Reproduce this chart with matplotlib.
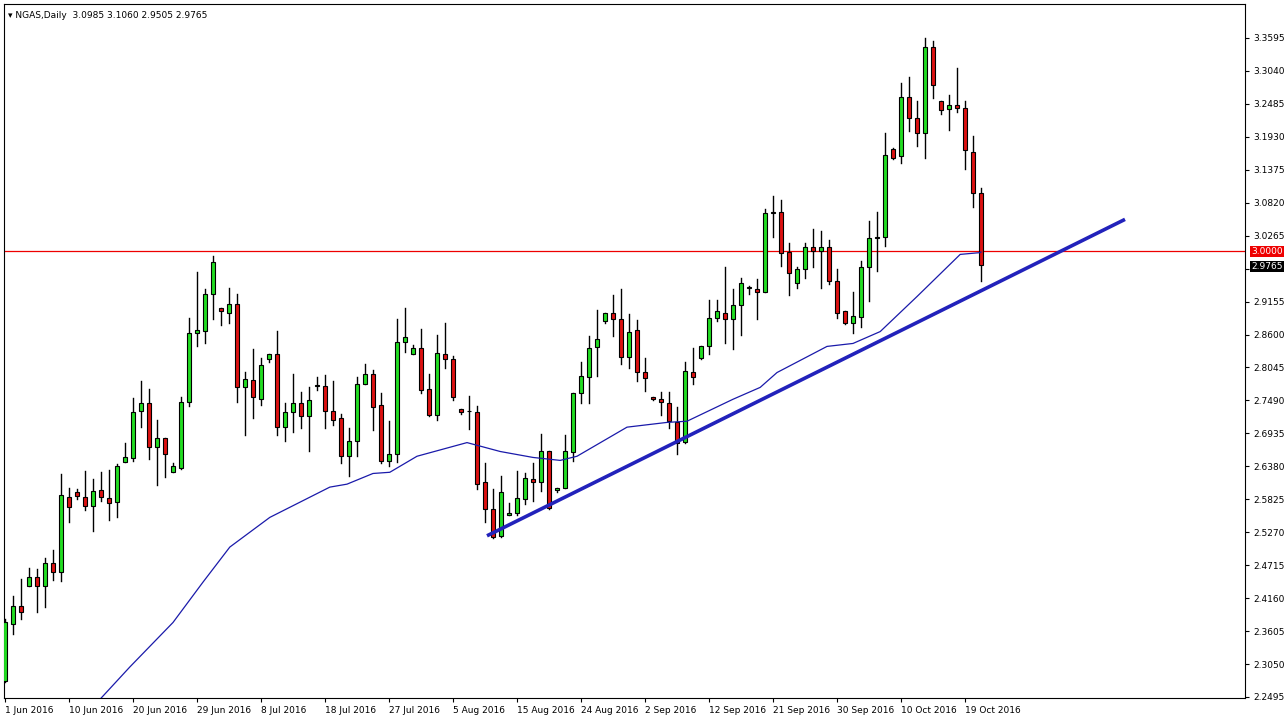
import matplotlib
matplotlib.use("Agg")
import matplotlib.pyplot as plt
from matplotlib.patches import Rectangle
import pandas as pd

opens = [2.277,2.372,2.402,2.436,2.452,2.436,2.476,2.460,2.587,2.595,2.587,2.571,2.598,2.585,2.578,2.646,2.652,2.731,2.745,2.671,
 2.685,2.629,2.636,2.747,2.863,2.866,2.929,2.904,2.897,2.911,2.772,2.784,2.752,2.818,2.827,2.705,2.730,2.744,2.723,2.774,
 2.774,2.732,2.719,2.655,2.680,2.777,2.793,2.741,2.647,2.658,2.848,2.828,2.838,2.768,2.724,2.828,2.818,2.734,2.731,2.730,
 2.611,2.566,2.520,2.556,2.560,2.583,2.617,2.612,2.663,2.598,2.602,2.662,2.762,2.789,2.839,2.882,2.896,2.887,2.823,2.867,
 2.797,2.754,2.752,2.745,2.713,2.679,2.797,2.821,2.840,2.888,2.897,2.887,2.909,2.939,2.936,2.932,3.065,3.067,2.999,2.947,
 2.970,3.008,3.001,3.008,2.950,2.899,2.879,2.890,2.973,3.023,3.025,3.173,3.160,3.260,3.225,3.200,3.345,3.254,3.240,3.246,
 3.241,3.168,3.0985]
highs = [2.381,2.420,2.448,2.466,2.465,2.484,2.497,2.625,2.602,2.599,2.630,2.616,2.629,2.632,2.642,2.677,2.753,2.781,2.769,2.716,
 2.685,2.644,2.754,2.888,2.965,2.937,2.992,2.904,2.939,2.929,2.797,2.835,2.820,2.828,2.866,2.745,2.793,2.764,2.772,2.789,
 2.792,2.781,2.726,2.702,2.789,2.811,2.801,2.761,2.715,2.887,2.905,2.843,2.870,2.793,2.860,2.879,2.824,2.735,2.756,2.740,
 2.644,2.599,2.621,2.577,2.630,2.627,2.643,2.692,2.663,2.602,2.690,2.762,2.813,2.857,2.901,2.897,2.926,2.936,2.894,2.884,
 2.820,2.754,2.763,2.763,2.738,2.814,2.838,2.841,2.919,2.919,2.973,2.937,2.956,2.942,2.953,3.071,3.093,3.086,3.015,2.974,
 3.015,3.037,3.034,3.019,2.971,2.899,2.932,2.984,3.052,3.066,3.200,3.175,3.283,3.294,3.254,3.360,3.354,3.254,3.264,3.309,
 3.253,3.195,3.106]
lows = [2.274,2.355,2.381,2.436,2.393,2.401,2.447,2.445,2.544,2.583,2.565,2.529,2.580,2.548,2.552,2.646,2.647,2.705,2.651,2.607,
 2.620,2.629,2.633,2.739,2.840,2.846,2.887,2.876,2.880,2.746,2.691,2.720,2.741,2.813,2.691,2.681,2.696,2.703,2.663,2.766,
 2.702,2.708,2.644,2.622,2.655,2.777,2.699,2.643,2.639,2.645,2.831,2.827,2.762,2.723,2.716,2.804,2.750,2.727,2.701,2.600,
 2.544,2.518,2.519,2.556,2.556,2.575,2.580,2.597,2.566,2.594,2.602,2.647,2.744,2.745,2.790,2.880,2.857,2.810,2.803,2.781,
 2.765,2.749,2.725,2.703,2.659,2.678,2.776,2.818,2.828,2.883,2.846,2.836,2.860,2.928,2.886,2.932,3.025,2.975,2.927,2.939,
 2.956,2.973,2.939,2.945,2.888,2.877,2.862,2.872,2.917,2.967,3.009,3.155,3.149,3.203,3.177,3.158,3.259,3.232,3.204,3.235,
 3.139,3.075,2.9505]
closes = [2.375,2.402,2.393,2.452,2.436,2.476,2.460,2.589,2.570,2.588,2.571,2.596,2.587,2.577,2.639,2.653,2.730,2.745,2.670,2.685,
 2.659,2.638,2.747,2.863,2.868,2.929,2.983,2.899,2.911,2.772,2.785,2.754,2.808,2.828,2.705,2.730,2.744,2.723,2.749,2.775,
 2.731,2.716,2.655,2.680,2.776,2.794,2.738,2.647,2.658,2.848,2.856,2.838,2.767,2.724,2.829,2.819,2.755,2.730,2.731,2.609,
 2.566,2.519,2.594,2.560,2.584,2.619,2.612,2.663,2.567,2.602,2.664,2.762,2.790,2.838,2.853,2.896,2.887,2.823,2.865,2.797,
 2.786,2.751,2.747,2.714,2.678,2.799,2.789,2.841,2.888,2.899,2.887,2.909,2.947,2.939,2.932,3.064,3.065,2.998,2.964,2.971,
 3.008,3.001,3.008,2.950,2.897,2.879,2.892,2.974,3.023,3.023,3.163,3.158,3.260,3.225,3.200,3.345,3.281,3.239,3.246,3.242,
 3.170,3.099,2.9765]

ma_idx = [11.9, 15.6, 21.0, 24.75, 28.1, 33.1, 40.6, 42.75, 46.0, 48.1, 51.5, 57.75, 61.9, 66.0, 69.4, 71.5,
          77.75, 82.75, 85.25, 91.0, 94.4, 96.5, 102.75, 106.0, 109.4, 114.0, 119.4, 121.9, 122.0]
ma_val = [2.246, 2.300, 2.375, 2.443, 2.502, 2.552, 2.603, 2.608, 2.626, 2.628, 2.655, 2.678, 2.663, 2.653, 2.648, 2.655,
          2.704, 2.712, 2.714, 2.751, 2.771, 2.796, 2.840, 2.845, 2.865, 2.924, 2.995, 2.998, 2.999]

trend_x = [60.25, 140.0]
trend_y = [2.521, 3.054]
hline = 3.0

dates = pd.bdate_range("2016-06-01", periods=len(opens), freq="C", weekmask="Sun Mon Tue Wed Thu Fri")

W, H = 1286, 724
fig = plt.figure(figsize=(W/100, H/100), dpi=100)
ax = fig.add_axes([4/W, 26/H, 1241/W, 694/H])
ax.set_xlim(-0.125, 155)
ylo = 2.2495 - 0.0017
yhi = 3.3595 + 34*0.001684
ax.set_ylim(ylo, yhi)

green = "#22dd22"
red = "#dd1111"
bw = 0.62
for i, (o, h, l, c) in enumerate(zip(opens, highs, lows, closes)):
    ax.plot([i, i], [l, h], color="black", lw=1, zorder=2)
    col = green if c >= o else red
    bot = min(o, c)
    hgt = max(abs(c - o), 0.0008)
    ax.add_patch(Rectangle((i - bw/2, bot), bw, hgt, facecolor=col, edgecolor="black", lw=0.8, zorder=3))

ax.plot(ma_idx, ma_val, color="#1a1aaa", lw=0.9, zorder=4)
ax.plot(trend_x, trend_y, color="#2222bb", lw=2.6, zorder=5, solid_capstyle="butt")
ax.axhline(hline, color="#ee0000", lw=0.9, zorder=1)

yt = [2.2495 + k*0.0555 for k in range(21)]
ax.yaxis.tick_right()
ax.set_yticks(yt)
ax.set_yticklabels([f"{v:.4f}" for v in yt], fontsize=6.5)
ax.tick_params(axis="y", length=3, pad=3, width=0.8)
xt = list(range(0, len(opens), 8))
ax.set_xticks(xt)
ax.set_xticklabels([f"{dates[i].day} {dates[i].strftime('%b %Y')}" for i in xt], fontsize=6.5, ha="left")
ax.tick_params(axis="x", length=3, pad=3, width=0.8)
for s in ax.spines.values():
    s.set_linewidth(0.8)

ax.text(1.005, hline, "3.0000", transform=ax.get_yaxis_transform(), fontsize=6.5, color="white", va="center", ha="left",
        bbox=dict(boxstyle="square,pad=0.15", facecolor="#ee0000", edgecolor="none"))
ax.text(1.005, closes[-1] - 0.002, f"{closes[-1]:.4f}", transform=ax.get_yaxis_transform(), fontsize=6.5, color="white", va="center", ha="left",
        bbox=dict(boxstyle="square,pad=0.15", facecolor="black", edgecolor="none"))
ax.text(0.003, 0.99, f"\u25be NGAS,Daily  {opens[-1]:.4f} {highs[-1]:.4f} {lows[-1]:.4f} {closes[-1]:.4f}",
        transform=ax.transAxes, fontsize=6.5, va="top", ha="left")

fig.savefig("out.png", dpi=100, facecolor="white")
